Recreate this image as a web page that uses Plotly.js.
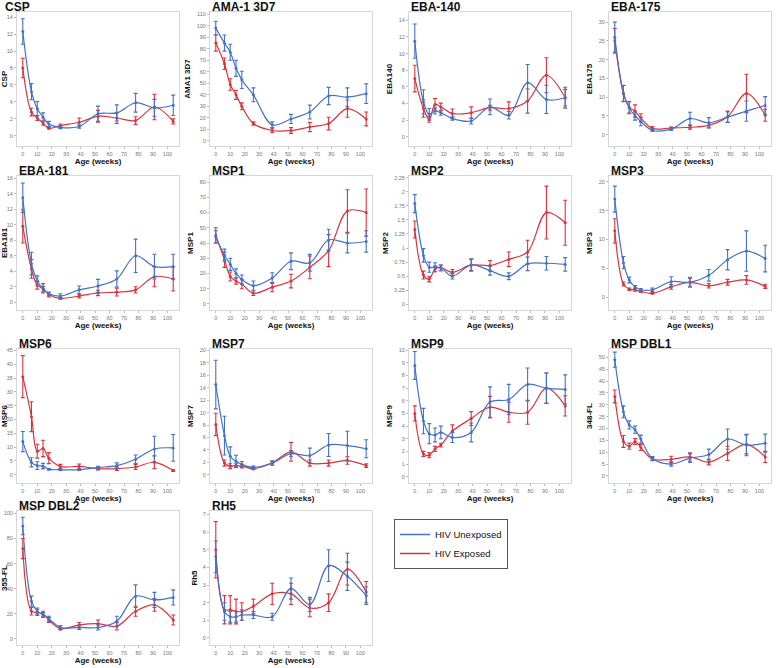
<!DOCTYPE html>
<html>
<head>
<meta charset="utf-8">
<script src="https://cdn.plot.ly/plotly-3.0.1.min.js"></script>
<style>
  html, body { margin: 0; padding: 0; background: #fff; }
  #chart { width: 778px; height: 668px; }
</style>
</head>
<body>
<div id="chart"></div>
<script>
// sampling ages (weeks)
const AGES = [0, 6, 10, 14, 18, 26, 39, 52, 65, 78, 91, 104];

// u = HIV unexposed, e = HIV exposed, *_se = error bar half-length
const csp_u = [12.3, 5.2, 3.2, 2.2, 1.4, 1.0, 1.1, 2.6, 2.7, 3.9, 3.3, 3.6];
const csp_u_se = [1.5, 0.95, 0.85, 0.5, 0.3, 0.15, 0.2, 0.9, 0.95, 1.1, 1.0, 1.2];
const csp_e = [8.0, 2.8, 2.1, 1.5, 0.9, 1.2, 1.6, 2.3, 2.1, 1.8, 3.4, 1.7];
const csp_e_se = [1.15, 0.45, 0.3, 0.25, 0.1, 0.2, 0.5, 0.7, 0.65, 0.45, 1.5, 0.3];

const ama_u = [98, 85, 77, 63, 53, 40, 14, 19, 25, 39, 38, 41];
const ama_u_se = [6, 7, 7, 7, 7.5, 6, 2.5, 4, 6, 7.5, 8, 8.5];
const ama_e = [85, 67, 49, 40, 30, 15, 9, 9, 12, 15, 28, 19];
const ama_e_se = [7, 5, 5, 4, 3, 1.5, 2, 2.5, 4, 5.5, 7.5, 6];

const eba140_u = [11.5, 4.2, 2.7, 3.1, 2.9, 2.2, 1.9, 3.6, 2.6, 6.5, 4.5, 4.7];
const eba140_u_se = [2.05, 1.45, 0.7, 0.35, 0.3, 0.2, 0.35, 0.95, 0.45, 2.2, 1.7, 1.25];
const eba140_e = [7.0, 3.4, 2.1, 3.9, 3.6, 2.8, 2.9, 3.5, 3.4, 4.3, 7.4, 4.7];
const eba140_e_se = [1.6, 1.05, 0.35, 0.7, 0.45, 0.55, 0.7, 0.3, 0.8, 1.45, 2.1, 1.0];

const eba175_u = [26, 11, 7.2, 5.0, 3.5, 1.2, 1.5, 4.3, 3.2, 4.7, 6.3, 7.8];
const eba175_u_se = [4, 2.2, 1.6, 1.1, 1.1, 0.35, 0.35, 1.7, 1.35, 1.4, 2.7, 2.35];
const eba175_e = [25, 11, 7.3, 6.3, 4.5, 1.7, 1.8, 2.0, 2.5, 4.8, 11, 5.2];
const eba175_e_se = [3.3, 2.1, 1.55, 1.65, 1.1, 0.45, 0.25, 0.5, 0.7, 1.5, 5.1, 1.6];

const eba181_u = [13.5, 5.0, 2.8, 1.7, 1.1, 0.8, 1.6, 2.1, 3.0, 6.0, 4.6, 4.6];
const eba181_u_se = [1.9, 1.45, 0.6, 0.35, 0.2, 0.3, 0.5, 0.85, 1.05, 2.15, 1.6, 1.6];
const eba181_e = [9.8, 4.3, 2.2, 1.8, 1.0, 0.5, 0.8, 1.2, 1.3, 1.6, 3.3, 3.0];
const eba181_e_se = [2.15, 1.2, 0.5, 0.6, 0.3, 0.1, 0.25, 0.35, 0.5, 0.4, 1.3, 1.55];

const msp1_u = [44, 32, 26, 20, 16, 12, 17, 28, 27, 42, 40, 41];
const msp1_u_se = [4, 4, 4, 3, 3, 3, 3.5, 5.5, 5.5, 7, 6.5, 7];
const msp1_e = [45, 29, 18, 15, 13, 7, 11, 15, 24, 35, 61, 60];
const msp1_e_se = [5, 5, 3, 2, 3, 1.5, 3, 4.5, 7.5, 10.5, 14, 15.5];

const msp2_u = [1.79, 0.87, 0.66, 0.66, 0.65, 0.5, 0.7, 0.6, 0.5, 0.72, 0.73, 0.71];
const msp2_u_se = [0.16, 0.12, 0.09, 0.08, 0.05, 0.05, 0.11, 0.08, 0.06, 0.12, 0.12, 0.12];
const msp2_e = [1.33, 0.52, 0.45, 0.63, 0.65, 0.57, 0.7, 0.69, 0.8, 0.93, 1.63, 1.45];
const msp2_e_se = [0.15, 0.07, 0.05, 0.05, 0.05, 0.05, 0.1, 0.09, 0.13, 0.21, 0.47, 0.4];

const msp3_u = [17, 6.0, 3.0, 1.8, 1.3, 1.3, 2.7, 2.6, 3.8, 6.5, 8.0, 6.7];
const msp3_u_se = [2.25, 1.05, 0.5, 0.25, 0.2, 0.3, 0.85, 0.85, 1.0, 1.75, 3.5, 2.3];
const msp3_e = [11.5, 2.3, 1.4, 1.3, 1.0, 0.7, 1.8, 2.6, 2.0, 2.6, 3.0, 1.9];
const msp3_e_se = [2.1, 0.35, 0.2, 0.25, 0.1, 0.1, 0.4, 0.7, 0.4, 0.5, 0.75, 0.35];

const msp6_u = [12, 4.5, 3.3, 3.1, 2.0, 1.8, 1.8, 2.6, 3.3, 5.6, 9.3, 9.7];
const msp6_u_se = [3.65, 1.65, 1.4, 1.0, 0.25, 0.25, 0.25, 0.45, 1.0, 1.55, 4.6, 4.85];
const msp6_e = [35.5, 21, 8.5, 9.5, 6, 3, 3, 2.2, 2.2, 2.8, 4.5, 1.5];
const msp6_e_se = [7.6, 5.4, 2.5, 2.95, 2, 0.75, 0.9, 0.45, 0.65, 0.9, 2.3, 0.3];

const msp7_u = [14.5, 6.3, 3.0, 2.2, 1.7, 1.2, 1.9, 3.4, 3.1, 4.8, 4.7, 4.2];
const msp7_u_se = [3.9, 3.1, 1.5, 0.95, 0.45, 0.2, 0.35, 0.5, 1.2, 1.85, 2.3, 1.45];
const msp7_e = [8.1, 1.9, 1.4, 1.5, 1.4, 1.0, 1.9, 3.7, 1.9, 1.9, 2.3, 1.5];
const msp7_e_se = [1.8, 0.5, 0.4, 0.3, 0.3, 0.15, 0.3, 1.5, 0.5, 0.5, 0.6, 0.3];

const msp9_u = [8.8, 4.4, 3.4, 3.3, 3.5, 3.1, 3.5, 5.9, 6.1, 7.3, 7.0, 6.9];
const msp9_u_se = [1.1, 1.0, 0.8, 0.55, 0.5, 0.4, 0.75, 1.2, 1.2, 1.3, 1.2, 1.15];
const msp9_e = [5.0, 1.8, 1.7, 2.2, 2.5, 3.6, 4.6, 5.5, 5.1, 5.1, 7.0, 5.6];
const msp9_e_se = [0.6, 0.2, 0.2, 0.2, 0.15, 0.5, 0.55, 0.85, 0.8, 0.95, 1.2, 0.8];

const dbl1_u = [49, 27, 21.5, 19.5, 15.5, 7.3, 5.0, 7.5, 9.0, 15.5, 13, 13.8];
const dbl1_u_se = [3.2, 2.5, 1.7, 1.5, 1.7, 0.9, 0.9, 1.8, 2.3, 4.25, 4.5, 3.8];
const dbl1_e = [33.5, 14.5, 12.5, 14.5, 12, 7.1, 7.0, 8.0, 5.8, 9.5, 13.3, 8.0];
const dbl1_e_se = [2.7, 2.5, 1.3, 1.2, 1.3, 0.6, 1.3, 1.7, 1.15, 3.0, 4.0, 2.35];

const dbl2_u = [90, 30, 22, 19, 16, 9, 9, 9, 14, 34, 31, 33];
const dbl2_u_se = [7, 4, 2.5, 2, 2, 1.5, 1.5, 2, 4, 9, 6, 6];
const dbl2_e = [72, 22, 21, 20, 15, 8, 11, 12, 10, 22, 27, 15];
const dbl2_e_se = [8, 3, 2.5, 2, 2, 1, 2, 3, 3, 4, 5, 4];

const rh5_u = [4.6, 1.5, 1.2, 1.2, 1.3, 1.3, 1.2, 2.8, 1.9, 4.1, 3.5, 2.4];
const rh5_u_se = [0.9, 0.5, 0.3, 0.3, 0.3, 0.2, 0.2, 0.6, 0.4, 0.9, 0.8, 0.5];
const rh5_e = [5.0, 1.6, 1.6, 1.5, 1.5, 1.8, 2.5, 2.5, 1.7, 2.0, 3.9, 2.6];
const rh5_e_se = [1.6, 0.8, 0.8, 0.7, 0.5, 0.4, 0.6, 0.6, 0.5, 0.5, 0.9, 0.6];

const panels = [
  { title: 'CSP', ytitle: 'CSP', u: csp_u, us: csp_u_se, e: csp_e, es: csp_e_se, yr: [-1.2, 14.6], dt: 2 },
  { title: 'AMA-1 3D7', ytitle: 'AMA1 3D7', u: ama_u, us: ama_u_se, e: ama_e, es: ama_e_se, yr: [-4.5, 112], dt: 10 },
  { title: 'EBA-140', ytitle: 'EBA140', u: eba140_u, us: eba140_u_se, e: eba140_e, es: eba140_e_se, yr: [-1.1, 15], dt: 2 },
  { title: 'EBA-175', ytitle: 'EBA175', u: eba175_u, us: eba175_u_se, e: eba175_e, es: eba175_e_se, yr: [-3, 32.7], dt: 5 },
  { title: 'EBA-181', ytitle: 'EBA181', u: eba181_u, us: eba181_u_se, e: eba181_e, es: eba181_e_se, yr: [-1, 16.3], dt: 2 },
  { title: 'MSP1', ytitle: 'MSP1', u: msp1_u, us: msp1_u_se, e: msp1_e, es: msp1_e_se, yr: [-4, 84], dt: 10 },
  { title: 'MSP2', ytitle: 'MSP2', u: msp2_u, us: msp2_u_se, e: msp2_e, es: msp2_e_se, yr: [-0.1, 2.28], dt: 0.25 },
  { title: 'MSP3', ytitle: 'MSP3', u: msp3_u, us: msp3_u_se, e: msp3_e, es: msp3_e_se, yr: [-2.2, 21], dt: 5 },
  { title: 'MSP6', ytitle: 'MSP6', u: msp6_u, us: msp6_u_se, e: msp6_e, es: msp6_e_se, yr: [-3, 45.5], dt: 5 },
  { title: 'MSP7', ytitle: 'MSP7', u: msp7_u, us: msp7_u_se, e: msp7_e, es: msp7_e_se, yr: [-1.3, 20.2], dt: 2 },
  { title: 'MSP9', ytitle: 'MSP9', u: msp9_u, us: msp9_u_se, e: msp9_e, es: msp9_e_se, yr: [-0.5, 10.1], dt: 1 },
  { title: 'MSP DBL1', ytitle: '348-FL', u: dbl1_u, us: dbl1_u_se, e: dbl1_e, es: dbl1_e_se, yr: [-3, 53.5], dt: 5 },
  { title: 'MSP DBL2', ytitle: '355-FL', u: dbl2_u, us: dbl2_u_se, e: dbl2_e, es: dbl2_e_se, yr: [-5, 102], dt: 20 },
  { title: 'RH5', ytitle: 'Rh5', u: rh5_u, us: rh5_u_se, e: rh5_e, es: rh5_e_se, yr: [-0.4, 7.2], dt: 1 }
];

const BLUE = '#4472c4';
const RED = '#d9343d';
const FONT = 'Liberation Sans, Arial, sans-serif';

const W = 778, H = 668;
const COL_LEFT = [17, 210, 409, 609];
const ROW_TOP = [12, 176, 349, 511];
const BOX_W = 162, BOX_H = 134;

const traces = [];
const annotations = [];
const layout = {
  width: W, height: H,
  margin: { l: 0, r: 0, t: 0, b: 0 },
  paper_bgcolor: '#fff', plot_bgcolor: '#fff',
  font: { family: FONT },
  showlegend: true,
  legend: {
    x: 394 / W, y: 1 - 519 / H, xanchor: 'left', yanchor: 'top',
    bordercolor: '#555', borderwidth: 1, bgcolor: '#fff',
    font: { size: 9.5, family: FONT, color: '#111' },
    tracegroupgap: 0, itemwidth: 30
  }
};

function serie(p, key, sKey, color, xr, yr) {
  return {
    x: AGES, y: p[key], xaxis: xr, yaxis: yr,
    type: 'scatter', mode: 'lines+markers',
    line: { shape: 'spline', color: color, width: 1.2 },
    marker: { size: 3, color: color },
    error_y: { type: 'data', array: p[sKey], visible: true, color: color, thickness: 1.1, width: 2 },
    showlegend: false, hoverinfo: 'x+y'
  };
}

panels.forEach((p, i) => {
  const row = Math.floor(i / 4), col = i % 4;
  const L = COL_LEFT[col], T = ROW_TOP[row];
  const n = i === 0 ? '' : String(i + 1);
  const xr = 'x' + n, yr = 'y' + n;

  traces.push(serie(p, 'e', 'es', RED, xr, yr));
  traces.push(serie(p, 'u', 'us', BLUE, xr, yr));

  const axisCommon = {
    showline: true, mirror: true, linecolor: '#d6d6d6', linewidth: 1,
    ticks: 'outside', ticklen: 2, tickcolor: '#bbb',
    showgrid: false, zeroline: false,
    tickfont: { size: 5.5, color: '#777', family: FONT }
  };

  layout['xaxis' + n] = Object.assign({}, axisCommon, {
    domain: [L / W, (L + BOX_W) / W], anchor: yr,
    range: [-4, 108], dtick: 10, tick0: 0,
    title: { text: '<b>Age (weeks)</b>', font: { size: 8, color: '#111', family: FONT }, standoff: 1 }
  });
  layout['yaxis' + n] = Object.assign({}, axisCommon, {
    domain: [1 - (T + BOX_H) / H, 1 - T / H], anchor: xr,
    range: p.yr, dtick: p.dt, tick0: 0,
    title: { text: '<b>' + p.ytitle + '</b>', font: { size: 8, color: '#111', family: FONT }, standoff: 4 }
  });

  annotations.push({
    text: '<b>' + p.title + '</b>', xref: 'paper', yref: 'paper',
    x: (i === 0 ? 3 : L) / W, y: 1 - (T - 5) / H,
    xanchor: 'left', yanchor: 'middle', showarrow: false,
    font: { size: 12, color: '#111', family: FONT }
  });
});

// legend entries
traces.push({ x: [null], y: [null], type: 'scatter', mode: 'lines', name: 'HIV Unexposed',
  line: { color: BLUE, width: 1.5 }, xaxis: 'x', yaxis: 'y', showlegend: true, hoverinfo: 'skip' });
traces.push({ x: [null], y: [null], type: 'scatter', mode: 'lines', name: 'HIV Exposed',
  line: { color: RED, width: 1.5 }, xaxis: 'x', yaxis: 'y', showlegend: true, hoverinfo: 'skip' });

layout.annotations = annotations;

Plotly.newPlot('chart', traces, layout, { displayModeBar: false, staticPlot: true });
</script>
</body>
</html>
